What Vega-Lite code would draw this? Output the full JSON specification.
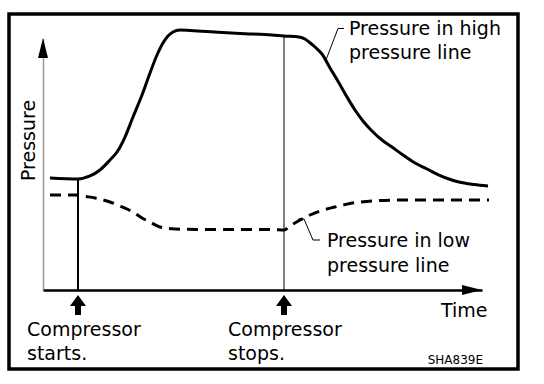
{
  "$schema": "https://vega.github.io/schema/vega-lite/v6.json",
  "width": 439,
  "height": 252,
  "autosize": {"type": "none"},
  "padding": {"left": 43, "top": 38, "right": 62, "bottom": 94},
  "background": "white",
  "config": {
    "view": {"stroke": null},
    "font": "DejaVu Sans",
    "axisX": {"domainColor": "black", "domainWidth": 2.5, "ticks": false, "labels": false, "grid": false},
    "axisY": {"domainColor": "#333333", "domainWidth": 1.5, "domainDash": [1, 1], "ticks": false, "labels": false, "grid": false}
  },
  "datasets": {
    "high": [
      {"t": 1.59, "p": 44.44}, {"t": 7.97, "p": 44.05}, {"t": 10.71, "p": 45.24}, {"t": 12.98, "p": 47.62},
      {"t": 15.26, "p": 51.59}, {"t": 16.86, "p": 54.76}, {"t": 18.68, "p": 60.71}, {"t": 20.5, "p": 68.65},
      {"t": 22.55, "p": 77.38}, {"t": 24.37, "p": 86.11}, {"t": 25.97, "p": 93.25}, {"t": 27.33, "p": 98.02},
      {"t": 28.47, "p": 100.79}, {"t": 29.61, "p": 102.38}, {"t": 31.21, "p": 103.17}, {"t": 33.49, "p": 102.98},
      {"t": 37.36, "p": 102.58}, {"t": 44.87, "p": 101.79}, {"t": 52.16, "p": 101.19}, {"t": 54.9, "p": 100.79},
      {"t": 58.31, "p": 100.4}, {"t": 59.68, "p": 99.6}, {"t": 60.59, "p": 98.41}, {"t": 61.96, "p": 96.43},
      {"t": 63.55, "p": 93.65}, {"t": 65.38, "p": 88.1}, {"t": 67.43, "p": 82.14}, {"t": 69.25, "p": 76.59},
      {"t": 71.07, "p": 71.43}, {"t": 72.89, "p": 67.06}, {"t": 74.94, "p": 63.1}, {"t": 77.22, "p": 59.52},
      {"t": 79.5, "p": 56.75}, {"t": 82.0, "p": 53.57}, {"t": 84.74, "p": 50.4}, {"t": 87.47, "p": 48.02},
      {"t": 90.21, "p": 45.63}, {"t": 92.48, "p": 44.05}, {"t": 94.76, "p": 42.86}, {"t": 98.18, "p": 41.87},
      {"t": 101.37, "p": 41.27}
    ],
    "low": [
      {"t": 1.59, "p": 37.7}, {"t": 7.97, "p": 37.7}, {"t": 9.11, "p": 37.3}, {"t": 11.85, "p": 36.51},
      {"t": 15.26, "p": 34.92}, {"t": 18.0, "p": 32.94}, {"t": 20.5, "p": 30.95}, {"t": 22.55, "p": 28.57},
      {"t": 24.37, "p": 26.98}, {"t": 26.65, "p": 25.0}, {"t": 30.07, "p": 24.21}, {"t": 35.76, "p": 24.01},
      {"t": 52.16, "p": 24.01}, {"t": 54.9, "p": 23.81}, {"t": 56.26, "p": 25.4}, {"t": 58.54, "p": 27.78},
      {"t": 60.82, "p": 29.76}, {"t": 63.1, "p": 31.35}, {"t": 66.51, "p": 32.94}, {"t": 69.93, "p": 34.33},
      {"t": 74.94, "p": 35.32}, {"t": 82.46, "p": 35.71}, {"t": 101.59, "p": 35.71}
    ],
    "events": [
      {"event": "start", "t": 7.97, "p": 44.05},
      {"event": "stop", "t": 54.9, "p": 100.79}
    ],
    "axisEnds": [
      {"axis": "y", "t": 0, "p": 100},
      {"axis": "x", "t": 100, "p": 0}
    ],
    "frame": [
      {"t": -7.745, "t2": 108.2, "p": 109.52, "p2": -31.35}
    ],
    "leaders": [
      {"id": "high", "i": 0, "t": 64.46, "p": 91.27},
      {"id": "high", "i": 1, "t": 67.2, "p": 103.77},
      {"id": "high", "i": 2, "t": 68.56, "p": 103.77},
      {"id": "low", "i": 0, "t": 58.09, "p": 28.17},
      {"id": "low", "i": 1, "t": 59.45, "p": 28.17},
      {"id": "low", "i": 2, "t": 61.5, "p": 19.84},
      {"id": "low", "i": 3, "t": 63.1, "p": 19.84}
    ],
    "labels": [
      {"text": "Compressor", "t": -3.64, "p": -18.25},
      {"text": "starts.", "t": -3.64, "p": -27.78},
      {"text": "Compressor", "t": 42.14, "p": -18.25},
      {"text": "stops.", "t": 42.14, "p": -27.78},
      {"text": "Pressure in high", "t": 69.7, "p": 101.19},
      {"text": "pressure line", "t": 69.7, "p": 91.67},
      {"text": "Pressure in low", "t": 64.69, "p": 17.06},
      {"text": "pressure line", "t": 64.69, "p": 7.14}
    ],
    "code": [
      {"text": "SHA839E", "t": 100.23, "p": -29.37}
    ]
  },
  "encoding": {
    "x": {"field": "t", "type": "quantitative", "scale": {"domain": [0, 100], "nice": false, "zero": false},
      "axis": {"title": "Time", "titleFont": "DejaVu Sans", "titleFontSize": 19, "titleFontWeight": "normal", "titleColor": "black",
        "titleAlign": "right", "titleBaseline": "alphabetic", "titleX": 444, "titleY": 26, "titleAnchor": "end"}},
    "y": {"field": "p", "type": "quantitative", "scale": {"domain": [0, 100], "nice": false, "zero": false},
      "axis": {"title": "Pressure", "titleFont": "DejaVu Sans", "titleFontSize": 19, "titleFontWeight": "normal", "titleColor": "black",
        "titleAngle": 270, "titleAlign": "center", "titleBaseline": "middle", "titleX": -15, "titleY": 102}}
  },
  "layer": [
    {
      "data": {"name": "frame"},
      "mark": {"type": "rect", "filled": false, "stroke": "black", "strokeWidth": 3.5, "clip": false},
      "encoding": {
        "x2": {"field": "t2"},
        "y2": {"field": "p2"}
      }
    },
    {
      "data": {"name": "events"},
      "mark": {"type": "rule", "color": "black", "clip": false},
      "encoding": {
        "y2": {"datum": 0},
        "size": {"field": "event", "type": "nominal", "scale": {"domain": ["start", "stop"], "range": [2, 1]}, "legend": null}
      }
    },
    {
      "data": {"name": "high"},
      "mark": {"type": "line", "color": "black", "strokeWidth": 3, "interpolate": "monotone", "clip": false}
    },
    {
      "data": {"name": "low"},
      "mark": {"type": "line", "color": "black", "strokeWidth": 3, "strokeDash": [11, 7], "interpolate": "monotone", "clip": false}
    },
    {
      "data": {"name": "leaders"},
      "mark": {"type": "line", "color": "black", "strokeWidth": 1, "clip": false},
      "encoding": {
        "detail": {"field": "id"},
        "order": {"field": "i", "type": "quantitative"}
      }
    },
    {
      "data": {"name": "axisEnds"},
      "mark": {"type": "point", "size": 400, "filled": true, "color": "black", "opacity": 1, "strokeWidth": 0, "clip": false},
      "encoding": {
        "shape": {"field": "axis", "type": "nominal", "scale": {"domain": ["x", "y"], "range": ["M0,0L-2,-0.5L-2,0.5Z", "M0,0L0.5,2L-0.5,2Z"]}, "legend": null}
      }
    },
    {
      "data": {"name": "events"},
      "mark": {"type": "point", "shape": "M0,0.5L0.8,1.6L0.3,1.6L0.3,2.5L-0.3,2.5L-0.3,1.6L-0.8,1.6Z", "size": 400, "filled": true, "color": "black", "opacity": 1, "strokeWidth": 0, "clip": false},
      "encoding": {
        "y": {"datum": 0, "type": "quantitative"}
      }
    },
    {
      "data": {"name": "labels"},
      "mark": {"type": "text", "align": "left", "baseline": "alphabetic", "font": "DejaVu Sans", "fontSize": 19, "color": "black", "clip": false},
      "encoding": {"text": {"field": "text"}}
    },
    {
      "data": {"name": "code"},
      "mark": {"type": "text", "align": "right", "baseline": "alphabetic", "font": "DejaVu Sans", "fontSize": 12, "color": "black", "clip": false},
      "encoding": {"text": {"field": "text"}}
    }
  ]
}
